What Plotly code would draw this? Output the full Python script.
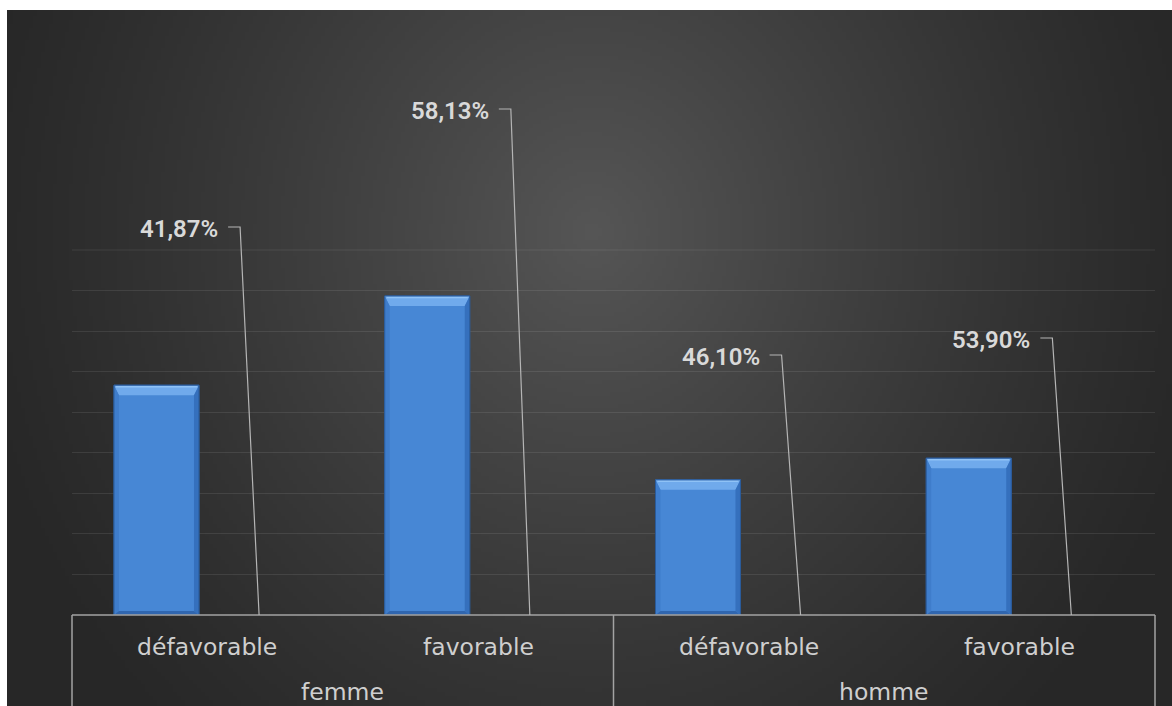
import base64
import struct
import zlib

import numpy as np
import plotly.graph_objects as go

# ---- data -------------------------------------------------------------
groupes = ["femme", "homme"]
avis = ["défavorable", "favorable"]
effectifs = [85, 118, 50, 58]          # counts per (groupe, avis)
parts = [41.87, 58.13, 46.10, 53.90]   # share within each groupe, in %

# ---- layout constants -------------------------------------------------
W, H = 1172, 706
ML, MR, MT, MB = 72, 17, 250, 91
PW, PH = W - ML - MR, H - MT - MB
X_RANGE = (-0.5, 3.5)
Y_MAX, Y_STEP = 135, 15

PX_PER_X = PW / (X_RANGE[1] - X_RANGE[0])
PX_PER_Y = PH / Y_MAX


def dx(px):
    return px / PX_PER_X


def dy(px):
    return px / PX_PER_Y


def paper_x(px):
    return (px - ML) / PW


def paper_y(py):
    return (H - MB - py) / PH


def xdata_to_paper(x):
    return (x - X_RANGE[0]) / (X_RANGE[1] - X_RANGE[0])


# bar geometry (category units)
BAR_W = 0.314
BAR_OFF = -0.345          # left edge of the count bar relative to category
SHARE_OFF = 0.034         # left edge of the share bar relative to category

# ---- background: soft radial gradient ---------------------------------
BG_X0, BG_Y0 = 7, 10
bw, bh = (W - BG_X0) // 4, (H - BG_Y0) // 4
yy, xx = np.mgrid[0:bh, 0:bw].astype(float)
px_x = BG_X0 + xx * 4
px_y = BG_Y0 + yy * 4
d = np.sqrt(((px_x - 590) / 640) ** 2 + ((px_y - 230) / 700) ** 2)
t = np.clip(1 - d, 0, 1) ** 1.2
lo, hi = 0x27, 0x56
val = (lo + (hi - lo) * t).astype(np.uint8)
img = np.dstack([val, val, val])


def png_uri(arr):
    h, w, _ = arr.shape
    raw = b"".join(b"\x00" + arr[r].tobytes() for r in range(h))

    def chunk(tag, data):
        c = struct.pack(">I", len(data)) + tag + data
        return c + struct.pack(">I", zlib.crc32(tag + data) & 0xFFFFFFFF)

    png = (b"\x89PNG\r\n\x1a\n"
           + chunk(b"IHDR", struct.pack(">IIBBBBB", w, h, 8, 2, 0, 0, 0))
           + chunk(b"IDAT", zlib.compress(raw, 9))
           + chunk(b"IEND", b""))
    return "data:image/png;base64," + base64.b64encode(png).decode()


# ---- figure -----------------------------------------------------------
xs = list(range(len(effectifs)))
FACE = "#4787d5"

fig = go.Figure()
fig.add_trace(go.Bar(
    x=xs, y=effectifs, width=BAR_W, offset=BAR_OFF,
    marker=dict(color=FACE, line=dict(color="#2d5f9f", width=1)),
    hoverinfo="skip", showlegend=False,
))
# share series: near-zero bars on the count axis, labelled via leader lines
fig.add_trace(go.Bar(
    x=xs, y=[p / 100 for p in parts], width=BAR_W, offset=SHARE_OFF,
    marker=dict(color=FACE, line=dict(width=0)), opacity=0,
    hoverinfo="skip", showlegend=False,
))

shapes = []

# bevel facets on the count bars
BT, BS, BB = 10, 5, 4
for i, v in enumerate(effectifs):
    x0 = i + BAR_OFF
    x1 = x0 + BAR_W
    y0, y1 = 0, v
    facets = [
        ([(x0, y1), (x1, y1), (x1 - dx(BS), y1 - dy(BT)), (x0 + dx(BS), y1 - dy(BT))], "#70aaec"),
        ([(x0, y1), (x0 + dx(BS), y1 - dy(BT)), (x0 + dx(BS), y0 + dy(BB)), (x0, y0)], "#3f7dcb"),
        ([(x1, y1), (x1 - dx(BS), y1 - dy(BT)), (x1 - dx(BS), y0 + dy(BB)), (x1, y0)], "#3570bd"),
        ([(x0, y0), (x0 + dx(BS), y0 + dy(BB)), (x1 - dx(BS), y0 + dy(BB)), (x1, y0)], "#3066af"),
    ]
    for pts, col in facets:
        path = "M " + " L ".join(f"{a},{b}" for a, b in pts) + " Z"
        shapes.append(dict(type="path", xref="x", yref="y", path=path,
                           fillcolor=col, line=dict(width=0), layer="above"))
    # thin highlight along the top edge
    shapes.append(dict(type="line", xref="x", yref="y", x0=x0 + dx(2), x1=x1 - dx(2),
                       y0=y1 - dy(1.5), y1=y1 - dy(1.5),
                       line=dict(color="#8fc2f6", width=1.5)))
    shapes.append(dict(type="rect", xref="x", yref="y", x0=x0, x1=x1, y0=y0, y1=y1,
                       line=dict(color="#2b5b9a", width=1), fillcolor="rgba(0,0,0,0)"))

# top gridline at the axis maximum
shapes.append(dict(type="line", xref="paper", yref="paper", x0=0, x1=1, y0=1, y1=1,
                   line=dict(color="rgba(255,255,255,0.09)", width=1.2), layer="below"))

# category box under the plot
LINE = "#a3a3a3"
shapes.append(dict(type="line", xref="paper", yref="paper", x0=0, x1=1, y0=0, y1=0,
                   line=dict(color=LINE, width=1.5)))
for xb in (X_RANGE[0], 1.5, X_RANGE[1]):
    xp = xdata_to_paper(xb)
    shapes.append(dict(type="line", xref="paper", yref="paper", x0=xp, x1=xp,
                       y0=0, y1=paper_y(H + 5), line=dict(color=LINE, width=1.5)))

# leader lines for the share labels
LABEL_Y_PX = [227, 109, 355, 338]
annotations = []
for i, p in enumerate(parts):
    ax = xdata_to_paper(i + SHARE_OFF + BAR_W / 2)
    ey = paper_y(LABEL_Y_PX[i])
    px1 = 1 / PW
    path = (f"M {ax - 31 * px1},{ey} L {ax - 19 * px1},{ey} L {ax},{0}")
    shapes.append(dict(type="path", xref="paper", yref="paper", path=path,
                       line=dict(color="#b5b5b5", width=1.2)))
    label = f"{p:.2f}%".replace(".", ",")
    annotations.append(dict(
        x=ax - 39 * px1, y=ey - 2 / PH, xref="paper", yref="paper", text=label,
        showarrow=False, xanchor="right", yanchor="middle",
        font=dict(family="Roboto", size=24, color="#d9d9d9", weight=600),
    ))

# two-level category labels
CAT_FONT = dict(family="DejaVu Sans", size=23.5, color="#cfcfcf")
for gi, g in enumerate(groupes):
    for ai, a in enumerate(avis):
        annotations.append(dict(
            x=gi * len(avis) + ai, y=paper_y(647), xref="x", yref="paper", text=a,
            showarrow=False, xanchor="center", yanchor="middle", font=CAT_FONT,
        ))
    annotations.append(dict(
        x=gi * len(avis) + (len(avis) - 1) / 2, y=paper_y(692), xref="x", yref="paper", text=g,
        showarrow=False, xanchor="center", yanchor="middle", font=CAT_FONT,
    ))

fig.update_layout(
    width=W, height=H,
    margin=dict(l=ML, r=MR, t=MT, b=MB, autoexpand=False),
    paper_bgcolor="white",
    plot_bgcolor="rgba(0,0,0,0)",
    barmode="overlay",
    xaxis=dict(range=list(X_RANGE), showticklabels=False, showgrid=False,
               zeroline=False, showline=False, fixedrange=True),
    yaxis=dict(range=[0, Y_MAX], dtick=Y_STEP, showticklabels=False, showgrid=True,
               gridcolor="rgba(255,255,255,0.09)", gridwidth=1.2, zeroline=False,
               showline=False, fixedrange=True),
    images=[dict(
        source=png_uri(img), xref="paper", yref="paper",
        x=paper_x(BG_X0), y=paper_y(BG_Y0),
        sizex=(W - BG_X0) / PW, sizey=(H - BG_Y0) / PH,
        xanchor="left", yanchor="top", sizing="stretch", layer="below",
    )],
    shapes=shapes,
    annotations=annotations,
)

fig.write_html("out.html", config={"displayModeBar": False})
